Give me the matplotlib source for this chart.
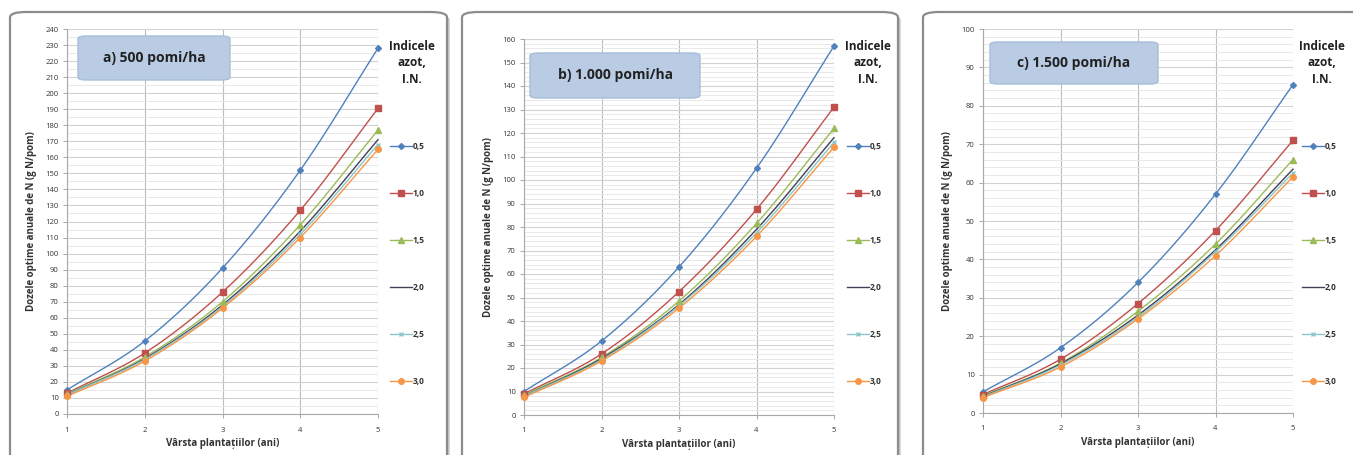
import numpy as np
import matplotlib
matplotlib.use("Agg")
import matplotlib.pyplot as plt
from matplotlib.patches import FancyBboxPatch
from matplotlib.lines import Line2D

plt.rcParams['font.family'] = ['Open Sans', 'DejaVu Sans']

years = [1, 2, 3, 4, 5]
series_labels = ["0,5", "1,0", "1,5", "2,0", "2,5", "3,0"]

a_500 = [
    [15, 45.5, 91, 152, 228],
    [13, 38, 76, 127, 190.5],
    [12.5, 35.5, 70, 118, 177],
    [12, 34.5, 68, 114, 171],
    [12, 34, 67, 112, 168],
    [11, 33, 66, 110, 165],
]
b_1000 = [
    [10, 31.5, 63, 105, 157],
    [9, 26, 52.5, 87.5, 131],
    [8.5, 24.5, 48.5, 81.5, 122],
    [8, 24, 47, 79, 118],
    [8, 23.5, 46.5, 77.5, 116],
    [7.5, 23, 45.5, 76, 114],
]
c_1500 = [
    [5.5, 17, 34, 57, 85.5],
    [4.8, 14, 28.5, 47.5, 71],
    [4.5, 13, 26.5, 44, 66],
    [4.3, 12.8, 25.5, 42.5, 63.5],
    [4.2, 12.5, 25, 42, 62.5],
    [4, 12, 24.5, 41, 61.5],
]
titles = ["a) 500 pomi/ha", "b) 1.000 pomi/ha", "c) 1.500 pomi/ha"]
ymaxes = [240, 160, 100]
minor_steps = [5, 2, 2]

colors = ["#4F81BD", "#C0504D", "#9BBB59", "#404058", "#8CC6C8", "#F79646"]
markers = ["D", "s", "^", None, "x", "o"]
msizes = [3, 4, 4, 0, 3, 4]

W, H = 1353, 455
fig = plt.figure(figsize=(W / 100, H / 100), dpi=100)


def px_rect(l, t, r, b):
    return [l / W, 1 - b / H, (r - l) / W, (b - t) / H]


def smooth(x, y, n=30):
    x = np.asarray(x, float)
    y = np.asarray(y, float)
    px = np.concatenate([[2 * x[0] - x[1]], x, [2 * x[-1] - x[-2]]])
    py = np.concatenate([[2 * y[0] - y[1]], y, [2 * y[-1] - y[-2]]])
    xs, ys = [], []
    t = np.linspace(0, 1, n)
    for i in range(1, len(px) - 2):
        p0, p1, p2, p3 = px[i - 1], px[i], px[i + 1], px[i + 2]
        q0, q1, q2, q3 = py[i - 1], py[i], py[i + 1], py[i + 2]
        for arr, a0, a1, a2, a3 in ((xs, p0, p1, p2, p3), (ys, q0, q1, q2, q3)):
            arr.extend(0.5 * ((2 * a1) + (-a0 + a2) * t + (2 * a0 - 5 * a1 + 4 * a2 - a3) * t ** 2
                              + (-a0 + 3 * a1 - 3 * a2 + a3) * t ** 3))
    return np.array(xs), np.array(ys)


frames = [(10, 12, 447, 470), (462, 12, 898, 470), (923, 12, 1366, 470)]
axes_px = [(67, 29, 378, 414), (524, 39, 834, 415), (983, 29, 1293, 413)]
title_boxes = [(78, 36, 230, 80), (530, 53, 700, 98), (990, 42, 1158, 84)]
leg_title_x = [412, 868, 1322]
leg_left = [390, 847, 1302]

for k, data in enumerate([a_500, b_1000, c_1500]):
    fl, ft, fr, fb = frames[k]
    shadow = FancyBboxPatch((fl / W + 0.002, 1 - fb / H - 0.006), (fr - fl) / W, (fb - ft) / H,
                            boxstyle="round,pad=0,rounding_size=0.012", transform=fig.transFigure,
                            facecolor="#C8C8C8", edgecolor="none", zorder=-2)
    fig.patches.append(shadow)
    frame = FancyBboxPatch((fl / W, 1 - fb / H), (fr - fl) / W, (fb - ft) / H,
                           boxstyle="round,pad=0,rounding_size=0.012", transform=fig.transFigure,
                           facecolor="white", edgecolor="#8C8C8C", linewidth=1.6, zorder=-1)
    fig.patches.append(frame)

    ax = fig.add_axes(px_rect(*axes_px[k]))
    ax.set_zorder(1)
    ax.set_facecolor("none")
    ax.set_xlim(1, 5)
    ax.set_ylim(0, ymaxes[k])
    ax.set_xticks(years)
    ax.set_yticks(np.arange(0, ymaxes[k] + 1, 10))
    ax.set_yticks(np.arange(0, ymaxes[k] + 1, minor_steps[k]), minor=True)
    ax.grid(axis='y', which='major', color="#D2D2D2", linewidth=0.8)
    ax.grid(axis='y', which='minor', color="#E9E9E9", linewidth=0.7)
    ax.grid(axis='x', which='major', color="#BDBDBD", linewidth=0.8)
    ax.set_axisbelow(True)
    for s in ["top", "right"]:
        ax.spines[s].set_visible(False)
    for s in ["left", "bottom"]:
        ax.spines[s].set_color("#A8A8A8")
        ax.spines[s].set_linewidth(0.8)
    ax.tick_params(axis='both', which='minor', length=0)
    ax.tick_params(axis='y', which='major', length=3, color="#A8A8A8", width=0.7,
                   labelsize=5.5, labelcolor="#333333", pad=3)
    ax.tick_params(axis='x', which='major', length=3, color="#A8A8A8", width=0.7,
                   labelsize=5.5, labelcolor="#333333", pad=6)
    ax.set_xlabel("Vârsta plantațiilor (ani)", fontsize=7, fontweight='bold', color="#333333", labelpad=3)
    ax.set_ylabel("Dozele optime anuale de N (g N/pom)", fontsize=7, fontweight='bold', color="#333333", labelpad=6)

    handles = []
    for i, vals in enumerate(data):
        xs, ys = smooth(years, vals)
        ax.plot(xs, ys, color=colors[i], linewidth=1.0, zorder=3, clip_on=False)
        if markers[i]:
            ax.plot(years, vals, linestyle='none', marker=markers[i], markersize=msizes[i],
                    color=colors[i], markeredgecolor=colors[i], zorder=4, clip_on=False)
        handles.append(Line2D([], [], color=colors[i], linewidth=1.0, marker=markers[i] if markers[i] else None,
                              markersize=msizes[i]))

    bl, bt, br, bb = title_boxes[k]
    tb = FancyBboxPatch((bl / W, 1 - bb / H), (br - bl) / W, (bb - bt) / H,
                        boxstyle="round,pad=0,rounding_size=0.006", transform=fig.transFigure,
                        facecolor="#B9CCE4", edgecolor="#A7BDD9", linewidth=1.0, zorder=5)
    fig.patches.append(tb)
    fig.text((bl + br) / 2 / W, 1 - (bt + bb) / 2 / H, titles[k], ha='center', va='center',
             fontsize=10, fontweight='bold', color="#222222", zorder=6)

    fig.text(leg_title_x[k] / W, 1 - 40 / H, "Indicele\nazot,\nI.N.", ha='center', va='top',
             fontsize=8.5, fontweight='bold', color="#222222", linespacing=1.35)

    leg = fig.legend(handles, series_labels, loc='upper left',
                     bbox_to_anchor=(leg_left[k] / W, 1 - 142 / H), frameon=False,
                     fontsize=6, labelspacing=4.55, handlelength=2.6, handletextpad=0.1,
                     borderaxespad=0, borderpad=0)
    for t in leg.get_texts():
        t.set_color("#333333")
        t.set_fontweight('bold')

fig.savefig("out.png", dpi=100)
